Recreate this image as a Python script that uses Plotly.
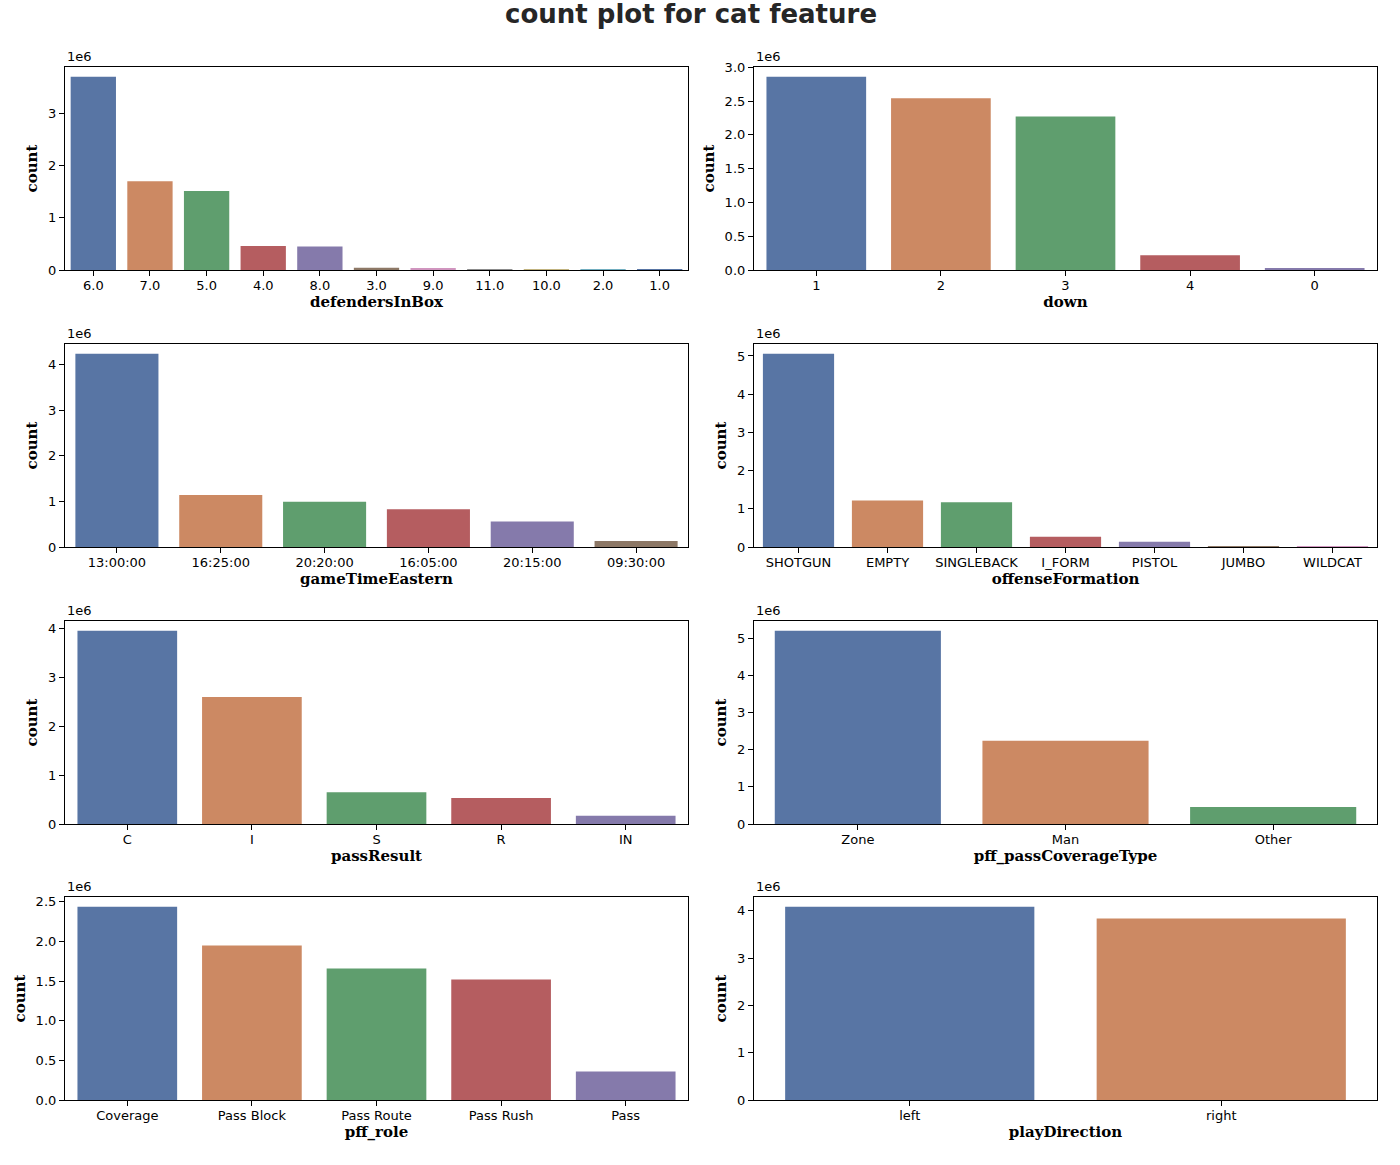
import plotly.graph_objects as go

W, H = 1400, 1165

# ---- data (counts in millions) ----
defenders_cats = ["6.0", "7.0", "5.0", "4.0", "8.0", "3.0", "9.0", "11.0", "10.0", "2.0", "1.0"]
defenders_vals = [3.70, 1.70, 1.51, 0.46, 0.45, 0.045, 0.02, 0.008, 0.001, 0.0003, 0.0001]

down_cats = ["1", "2", "3", "4", "0"]
down_vals = [2.86, 2.54, 2.27, 0.22, 0.02]

gametime_cats = ["13:00:00", "16:25:00", "20:20:00", "16:05:00", "20:15:00", "09:30:00"]
gametime_vals = [4.24, 1.14, 0.99, 0.83, 0.56, 0.13]

formation_cats = ["SHOTGUN", "EMPTY", "SINGLEBACK", "I_FORM", "PISTOL", "JUMBO", "WILDCAT"]
formation_vals = [5.06, 1.22, 1.17, 0.27, 0.14, 0.004, 0.001]

passresult_cats = ["C", "I", "S", "R", "IN"]
passresult_vals = [3.96, 2.60, 0.65, 0.53, 0.17]

coverage_cats = ["Zone", "Man", "Other"]
coverage_vals = [5.20, 2.24, 0.46]

role_cats = ["Coverage", "Pass Block", "Pass Route", "Pass Rush", "Pass"]
role_vals = [2.44, 1.95, 1.66, 1.52, 0.36]

direction_cats = ["left", "right"]
direction_vals = [4.09, 3.84]

x_titles = ["defendersInBox", "down", "gameTimeEastern", "offenseFormation",
            "passResult", "pff_passCoverageType", "pff_role", "playDirection"]
y_tick_steps = [1, 0.5, 1, 1, 1, 1, 0.5, 1]

palette = ["#5875A4", "#CC8963", "#5F9E6E", "#B55D60", "#857AAB",
           "#8D7866", "#D095BF", "#8C8C8C", "#C1B37F", "#71AEC0"]

panels = [
    (defenders_cats, defenders_vals),
    (down_cats, down_vals),
    (gametime_cats, gametime_vals),
    (formation_cats, formation_vals),
    (passresult_cats, passresult_vals),
    (coverage_cats, coverage_vals),
    (role_cats, role_vals),
    (direction_cats, direction_vals),
]

# ---- layout geometry (reference pixels) ----
col_x = [(65, 688), (754, 1377)]
row_y = [(67, 270), (344, 547), (621, 824), (897, 1100)]


def px(x):
    return x / W


def py(y):
    return 1 - y / H


fig = go.Figure()
layout = {}
annotations = []
tick_font = dict(family="DejaVu Sans", size=13, color="black")
label_font = dict(family="DejaVu Serif", size=15, color="black")

for i, ((cats, vals), xt, step) in enumerate(zip(panels, x_titles, y_tick_steps)):
    r, c = divmod(i, 2)
    n = i + 1
    xa = "x" if n == 1 else f"x{n}"
    ya = "y" if n == 1 else f"y{n}"
    counts = [v * 1e6 for v in vals]
    colors = [palette[k % len(palette)] for k in range(len(cats))]
    fig.add_trace(go.Bar(x=cats, y=counts, marker=dict(color=colors, line=dict(width=0)),
                         width=0.8, xaxis=xa, yaxis=ya, showlegend=False))
    x0, x1 = col_x[c]
    y0, y1 = row_y[r]
    ymax = max(counts) * 1.05
    tv, tt = [], []
    k = 0
    while k * step * 1e6 <= ymax + 1:
        tv.append(k * step * 1e6)
        tt.append(f"{k*step:.1f}" if step < 1 else f"{int(k*step)}")
        k += 1
    xkey = "xaxis" if n == 1 else f"xaxis{n}"
    ykey = "yaxis" if n == 1 else f"yaxis{n}"
    layout[xkey] = dict(domain=[px(x0), px(x1)], anchor=ya, type="category",
                        range=[-0.5, len(cats) - 0.5], showline=True, mirror=True,
                        linecolor="black", linewidth=1.2, ticks="outside", ticklen=5,
                        tickcolor="black", tickfont=tick_font, showgrid=False, zeroline=False,
                        automargin=False, ticklabelstandoff=-2,
                        title=dict(text=f"<b>{xt}</b>", font=label_font, standoff=4))
    layout[ykey] = dict(domain=[py(y1), py(y0)], anchor=xa, range=[0, ymax],
                        showline=True, mirror=True, linecolor="black", linewidth=1.2,
                        ticks="outside", ticklen=5, tickcolor="black", tickfont=tick_font,
                        tickvals=tv, ticktext=tt, showgrid=False, zeroline=False,
                        automargin=False,
                        title=dict(text="<b>count</b>", font=label_font, standoff=6))
    annotations.append(dict(text="1e6", xref="paper", yref="paper", x=px(x0), y=py(y0 - 1),
                            xanchor="left", yanchor="bottom", showarrow=False,
                            font=dict(family="DejaVu Sans", size=13, color="black")))

annotations.append(dict(text="<b>count plot for cat feature</b>", xref="paper", yref="paper",
                        x=px(691), y=py(14), xanchor="center", yanchor="middle",
                        showarrow=False,
                        font=dict(family="DejaVu Sans", size=26, color="#262626")))

fig.update_layout(**layout)
fig.update_layout(width=W, height=H, margin=dict(l=0, r=0, t=0, b=0),
                  plot_bgcolor="white", paper_bgcolor="white",
                  annotations=annotations, bargap=0.2)
fig.write_html("out.html", config={"displayModeBar": False},
               post_script="document.body.style.margin='0px';")
